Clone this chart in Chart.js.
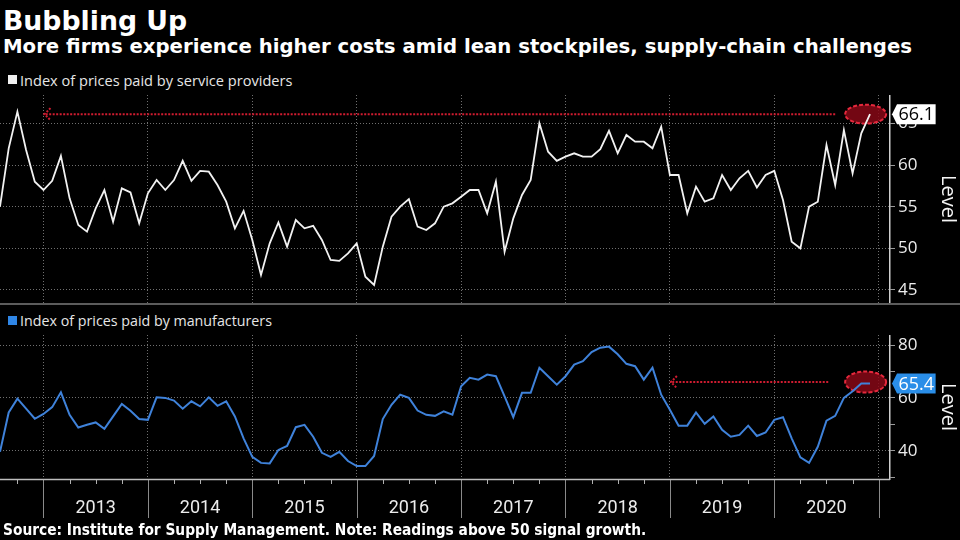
<!DOCTYPE html>
<html><head><meta charset="utf-8">
<script src="https://cdn.jsdelivr.net/npm/chart.js@4.4.1/dist/chart.umd.min.js"></script>
<style>
html,body{margin:0;padding:0;background:#000;}
body{width:960px;height:540px;position:relative;overflow:hidden;}
.t{position:absolute;left:3px;white-space:nowrap;color:#fff;transform-origin:0 0;font-family:"DejaVu Sans";font-weight:bold;}
#title{font-size:27px;line-height:27px;top:7px;}
#sub{font-size:19px;line-height:19px;top:37px;}
#foot{font-size:15px;line-height:15px;top:523px;}
.leg{position:absolute;left:20px;color:#e6e6e6;font-family:"Open Sans";font-size:15px;line-height:15px;white-space:nowrap;transform-origin:0 0;}
.sq{position:absolute;}
canvas{position:absolute;left:0;}
#divider{position:absolute;left:0;top:303px;width:960px;height:2px;background:#5c5c5c;}
</style></head>
<body>
<div id="title" class="t">Bubbling Up</div>
<div id="sub" class="t">More firms experience higher costs amid lean stockpiles, supply-chain challenges</div>
<div class="sq" style="left:8px;top:75px;width:9px;height:9px;background:#f0f0f0"></div>
<div id="leg1" class="leg" style="top:73px">Index of prices paid by service providers</div>
<canvas id="c1" width="960" height="208" style="top:95px"></canvas>
<div id="divider"></div>
<div class="sq" style="left:8px;top:316px;width:9px;height:9px;background:#2f86e6"></div>
<div id="leg2" class="leg" style="top:313px">Index of prices paid by manufacturers</div>
<canvas id="c2" width="960" height="187" style="top:335px"></canvas>
<div id="foot" class="t">Source: Institute for Supply Management. Note: Readings above 50 signal growth.</div>
<script>
// Monthly readings, Jul 2012 .. Nov 2020 (index 0 = Jul 2012)
const startLabel = '2012-07';
const services = [
55.0,62.0,66.4,61.8,58.0,57.0,
58.1,61.1,56.0,52.8,52.0,54.8,57.0,53.2,57.2,56.7,53.0,56.6,
58.2,57.0,58.2,60.5,58.1,59.3,59.2,57.6,55.6,52.4,54.5,51.0,
46.8,50.6,53.1,50.2,53.4,52.4,52.7,51.0,48.6,48.5,49.4,50.6,
46.6,45.6,50.2,53.8,55.0,55.9,52.6,52.2,53.0,55.0,55.4,56.2,
57.0,57.0,54.2,58.0,49.6,53.6,56.4,58.2,65.0,61.6,60.5,61.0,
61.4,61.0,61.0,61.9,64.1,61.4,63.6,62.8,62.8,62.0,64.6,58.8,
58.8,54.2,57.4,55.6,56.0,58.8,57.0,58.4,59.3,57.3,58.8,59.3,
55.8,50.8,50.0,55.0,55.6,62.4,57.6,64.2,59.0,63.8,66.1];
const manufacturers = [
39.6,54.5,59.7,55.9,52.1,53.9,
56.5,62.1,53.6,48.8,49.8,50.7,48.3,53.0,57.7,55.1,52.0,51.7,
60.2,60.0,59.0,55.9,58.7,56.8,60.2,57.0,58.7,53.0,44.7,37.7,
35.4,35.2,40.3,41.8,48.9,49.8,45.3,39.2,37.7,39.6,36.1,34.2,
34.2,38.0,52.0,57.4,61.2,60.0,55.2,53.6,53.2,54.9,53.6,64.4,
67.6,66.9,68.8,68.2,60.6,52.7,61.9,61.9,71.4,68.2,65.0,68.2,
72.6,73.9,77.3,79.0,79.4,76.5,72.9,72.0,66.9,71.4,61.2,55.5,
49.5,49.5,54.5,50.2,53.0,47.9,45.3,46.0,49.5,45.6,46.9,51.7,
52.7,44.7,37.5,35.4,41.5,51.4,53.2,60.0,62.5,65.4,65.4];
const yearLabels = ['2013','2014','2015','2016','2017','2018','2019','2020'];
const yearStarts = [5,17,29,41,53,65,77,89,101];   // month index where each year begins
const quarterTicks = [2,5,8,11,14,17,20,23,26,29,32,35,38,41,44,47,50,53,56,59,62,65,68,71,74,77,80,83,86,89,92,95,98,101];
const svcMajor = [45,50,55,60,65], svcMinor = [47.5,52.5,57.5,62.5];
const mfgMajor = [40,60,80], mfgMinor = [30,50,70];
const xMin = 0, xMax = 102.3;
const svcRange = [43.44, 68.4], mfgRange = [29.3, 83.8];
const svcArrow = {tail: 96, tip: 5, value: 66.1}, mfgArrow = {tail: 95.2, tip: 77, value: 66.0};
const svcCircle = {x: 99.5, value: 66.1}, mfgCircle = {x: 99.5, value: 66.0};

const GRID = '#707070', AXIS = '#cfcfcf', TXT = '#ececec';

function toPts(arr){ return arr.map((v,i)=>({x:i,y:v})); }

function fitText(id, w){ const el=document.getElementById(id); el.style.transform='scaleX('+(w/el.offsetWidth)+')'; }

function drawArrow(ctx, x1, x2, y){
  ctx.save(); ctx.strokeStyle='#d01c30'; ctx.lineWidth=2; ctx.setLineDash([2,1.5]);
  ctx.beginPath(); ctx.moveTo(x1,y); ctx.lineTo(x2,y); ctx.stroke();
  ctx.beginPath(); ctx.moveTo(x2+7,y-6); ctx.lineTo(x2+1,y); ctx.lineTo(x2+7,y+6); ctx.stroke();
  ctx.restore();
}
function drawEllipse(ctx, x, y, rx, ry){
  ctx.save();
  ctx.beginPath(); ctx.ellipse(x,y,rx,ry,0,0,Math.PI*2);
  ctx.fillStyle='rgba(135,8,22,0.85)'; ctx.fill();
  ctx.setLineDash([4,2]); ctx.lineWidth=2; ctx.strokeStyle='#e4283c'; ctx.stroke();
  ctx.restore();
}
function valueBox(ctx, x, y, text, fill, color){
  ctx.save();
  ctx.font='18px "Open Sans"';
  const w=ctx.measureText(text).width, h=20, tip=5, pad=1.5;
  ctx.beginPath(); ctx.moveTo(x,y); ctx.lineTo(x+tip,y-h/2); ctx.lineTo(x+tip+w+pad*2,y-h/2);
  ctx.lineTo(x+tip+w+pad*2,y+h/2); ctx.lineTo(x+tip,y+h/2); ctx.closePath();
  ctx.fillStyle=fill; ctx.fill();
  ctx.fillStyle=color; ctx.textBaseline='middle'; ctx.textAlign='left';
  ctx.fillText(text, x+tip+pad, y+1);
  ctx.restore();
}

function makeMarkPlugin(arrow, circle, ry, series, fill, color){
  return {
    id:'marks',
    beforeDatasetsDraw(chart){
      const {ctx, scales:{x,y}} = chart;
      drawEllipse(ctx, x.getPixelForValue(circle.x), y.getPixelForValue(circle.value), 20.5, ry);
      drawArrow(ctx, x.getPixelForValue(arrow.tail), x.getPixelForValue(arrow.tip), y.getPixelForValue(arrow.value));
    },
    afterDraw(chart){
      const {ctx, scales:{x,y}} = chart;
      const last = series[series.length-1];
      valueBox(ctx, chart.chartArea.right+2, y.getPixelForValue(last), last.toFixed(1), fill, color);
    }
  };
}

const xAxisPlugin = {
  id:'xaxis',
  afterDraw(chart){
    const {ctx, scales:{x}} = chart;
    const top = x.top;
    ctx.save();
    ctx.strokeStyle='#8a8a8a'; ctx.lineWidth=1;
    yearStarts.forEach(v=>{ const px=Math.round(x.getPixelForValue(v))+0.5; ctx.beginPath(); ctx.moveTo(px,top); ctx.lineTo(px,top+39); ctx.stroke(); });
    ctx.strokeStyle='#b0b0b0';
    quarterTicks.forEach(v=>{ if(yearStarts.includes(v)) return; const px=Math.round(x.getPixelForValue(v))+0.5; ctx.beginPath(); ctx.moveTo(px,top); ctx.lineTo(px,top+5); ctx.stroke(); });
    ctx.strokeStyle='#bdbdbd'; ctx.lineWidth=1.5;
    ctx.beginPath(); ctx.moveTo(0,top+0.5); ctx.lineTo(chart.chartArea.right,top+0.5); ctx.stroke();
    ctx.restore();
  }
};

function yScale(range, major, minor){
  return {
    position:'right', min:range[0], max:range[1],
    afterBuildTicks(s){ s.ticks = major.concat(minor).sort((a,b)=>a-b).map(v=>({value:v})); },
    afterFit(s){ s.width=70; s.paddingTop=0; s.paddingBottom=0; },
    ticks:{ color:TXT, font:{family:'Open Sans', size:17}, padding:3,
      callback:(v)=> major.includes(v) ? String(v) : '' },
    grid:{ color:(c)=> (c.tick && major.includes(c.tick.value)) ? GRID : 'rgba(0,0,0,0)',
      lineWidth:1, drawTicks:true, tickLength:5, tickColor:AXIS, tickWidth:1, tickBorderDash:[1,0] },
    border:{ display:true, color:AXIS, width:1.5, dash:[1,2] },
    title:{ display:true, text:'Level', color:'#f4f4f4', font:{family:'Open Sans', size:20}, padding:{top:0,bottom:0} }
  };
}

function init(){
  fitText('title',184); fitText('sub',909); fitText('foot',643); fitText('leg1',272); fitText('leg2',252);

  new Chart(document.getElementById('c1'), {
    type:'line',
    data:{ datasets:[{ label:'Index of prices paid by service providers', data:toPts(services),
      borderColor:'#f2f2f2', borderWidth:1.8, pointRadius:0, tension:0 }]},
    options:{
      responsive:false, animation:false, layout:{padding:0},
      plugins:{ legend:{display:false}, tooltip:{enabled:false} },
      scales:{
        x:{ type:'linear', min:xMin, max:xMax,
          afterBuildTicks(s){ s.ticks = yearStarts.map(v=>({value:v})); },
          afterFit(s){ s.height=0; s.paddingLeft=0; s.paddingRight=0; },
          ticks:{display:false}, grid:{color:GRID, drawTicks:false, lineWidth:1}, border:{display:false, dash:[1,2]} },
        y: yScale(svcRange, svcMajor, svcMinor)
      }
    },
    plugins:[ makeMarkPlugin(svcArrow, svcCircle, 9.5, services, '#ffffff', '#000000') ]
  });

  new Chart(document.getElementById('c2'), {
    type:'line',
    data:{ datasets:[{ label:'Index of prices paid by manufacturers', data:toPts(manufacturers),
      borderColor:'#3f82da', borderWidth:2, pointRadius:0, tension:0 }]},
    options:{
      responsive:false, animation:false, layout:{padding:0},
      plugins:{ legend:{display:false}, tooltip:{enabled:false} },
      scales:{
        x:{ type:'linear', min:xMin, max:xMax,
          afterBuildTicks(s){ s.ticks = quarterTicks.map(v=>({value:v})); },
          afterFit(s){ s.height=43; s.paddingLeft=0; s.paddingRight=0; },
          ticks:{ autoSkip:false, maxRotation:0, color:TXT, font:{family:'Roboto', size:18}, padding:19,
            callback:(v)=>{ const k=yearStarts.indexOf(v-6); return (k>=0 && k<yearLabels.length) ? yearLabels[k] : ''; } },
          grid:{ color:(c)=> (c.tick && yearStarts.includes(c.tick.value)) ? GRID : 'rgba(0,0,0,0)', drawTicks:false, lineWidth:1 },
          border:{display:false, dash:[1,2]} },
        y: yScale(mfgRange, mfgMajor, mfgMinor)
      }
    },
    plugins:[ makeMarkPlugin(mfgArrow, mfgCircle, 10.5, manufacturers, '#2a8ee8', '#ffffff'), xAxisPlugin ]
  });
}

Promise.all(['16px "Open Sans"','18px Roboto','bold 19px "DejaVu Sans"'].map(f=>document.fonts.load(f)))
  .catch(()=>{}).then(init);
</script>
</body></html>
